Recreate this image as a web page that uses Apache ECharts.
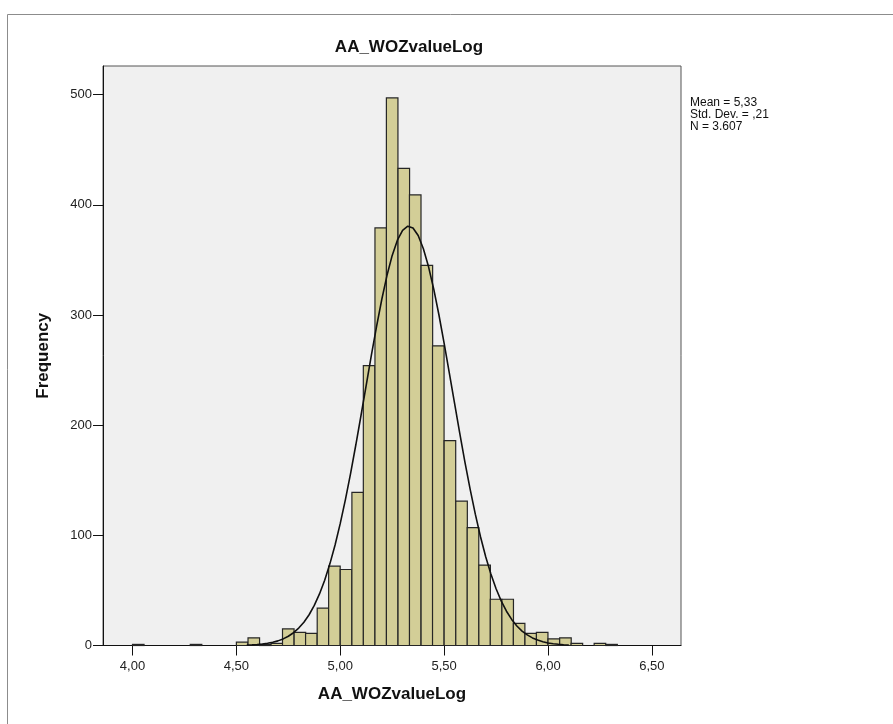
<!DOCTYPE html>
<html>
<head>
<meta charset="utf-8">
<title>AA_WOZvalueLog</title>
<script src="https://cdn.jsdelivr.net/npm/echarts@6/dist/echarts.min.js"></script>
<style>
  html, body { margin: 0; padding: 0; background: #ffffff; }
  #chart { width: 893px; height: 724px; }
</style>
</head>
<body>
<div id="chart"></div>
<script>
// Histogram bins: lower edge of each bin and its frequency
const binWidth = 0.0556;
const binStarts = [
  4.000, 4.056, 4.111, 4.167, 4.222, 4.278, 4.333, 4.389, 4.444, 4.500,
  4.556, 4.611, 4.667, 4.722, 4.778, 4.833, 4.889, 4.944, 5.000, 5.056,
  5.111, 5.167, 5.222, 5.278, 5.333, 5.389, 5.444, 5.500, 5.556, 5.611,
  5.667, 5.722, 5.778, 5.833, 5.889, 5.944, 6.000, 6.056, 6.111, 6.167,
  6.222, 6.278
];
const frequencies = [
  1, 0, 0, 0, 0, 1, 0, 0, 0, 3,
  7, 1, 2, 15, 12, 11, 34, 72, 69, 139,
  254, 379, 497, 433, 409, 345, 272, 186, 131, 107,
  73, 42, 42, 20, 11, 12, 6, 7, 2, 0,
  2, 1
];

// Fitted normal curve (x position, frequency height)
const curveX = [
  4.550, 4.575, 4.600, 4.625, 4.650, 4.675, 4.700, 4.725, 4.750, 4.775,
  4.800, 4.825, 4.850, 4.875, 4.900, 4.925, 4.950, 4.975, 5.000, 5.025,
  5.050, 5.075, 5.100, 5.125, 5.150, 5.175, 5.200, 5.225, 5.250, 5.275,
  5.300, 5.325, 5.350, 5.375, 5.400, 5.425, 5.450, 5.475, 5.500, 5.525,
  5.550, 5.575, 5.600, 5.625, 5.650, 5.675, 5.700, 5.725, 5.750, 5.775,
  5.800, 5.825, 5.850, 5.875, 5.900, 5.925, 5.950, 5.975, 6.000, 6.025,
  6.050, 6.075, 6.100
];
const curveY = [
  0.4, 0.6, 0.9, 1.4, 2.0, 2.9, 4.2, 6.0, 8.4, 11.6,
  15.8, 21.1, 27.9, 36.4, 46.8, 59.3, 74.1, 91.2, 110.8, 132.6,
  156.5, 182.2, 209.0, 236.4, 263.7, 289.9, 314.3, 336.0, 354.1, 367.9,
  376.8, 380.6, 379.0, 372.1, 360.1, 343.7, 323.4, 300.0, 274.3, 247.3,
  219.9, 192.7, 166.5, 141.9, 119.2, 98.7, 80.6, 64.9, 51.5, 40.3,
  31.1, 23.7, 17.7, 13.1, 9.6, 6.9, 4.9, 3.4, 2.3, 1.6,
  1.1, 0.7, 0.5
];

// Axis ticks
const xTickValues = [4.0, 4.5, 5.0, 5.5, 6.0, 6.5];
const xTickLabels = ['4,00', '4,50', '5,00', '5,50', '6,00', '6,50'];
const yTickValues = [0, 100, 200, 300, 400, 500];
const yTickLabels = ['0', '100', '200', '300', '400', '500'];

// Summary statistics
const statLines = ['Mean = 5,33', 'Std. Dev. = ,21', 'N = 3.607'];

const chart = echarts.init(document.getElementById('chart'), null, { renderer: 'canvas' });

const barData = binStarts.map((s, i) => [s, frequencies[i]]);
const curveData = curveX.map((x, i) => [x, curveY[i]]);
const font = 'Arial, "Liberation Sans", sans-serif';

chart.setOption({
  animation: false,
  backgroundColor: '#ffffff',
  title: {
    text: 'AA_WOZvalueLog',
    left: 404,
    textAlign: 'center',
    top: 34,
    textStyle: { fontFamily: font, fontSize: 17, fontWeight: 'bold', color: '#111111' }
  },
  grid: {
    left: 103, right: 212, top: 66, bottom: 78.5,
    show: true,
    backgroundColor: '#F0F0F0',
    borderColor: '#555555',
    borderWidth: 1
  },
  xAxis: {
    type: 'value',
    min: 3.858,
    max: 6.64,
    name: 'AA_WOZvalueLog',
    nameLocation: 'middle',
    nameGap: 40,
    nameTextStyle: { fontFamily: font, fontSize: 17, fontWeight: 'bold', color: '#111111' },
    axisLine: { show: true, onZero: false, lineStyle: { color: '#111111', width: 1 } },
    axisTick: {
      show: true, inside: false, length: 10,
      customValues: xTickValues,
      lineStyle: { color: '#111111', width: 1 }
    },
    axisLabel: {
      customValues: xTickValues,
      margin: 14,
      fontFamily: font, fontSize: 13, color: '#222222',
      formatter: (v) => {
        const i = xTickValues.findIndex(t => Math.abs(t - v) < 1e-6);
        return i >= 0 ? xTickLabels[i] : '';
      }
    },
    splitLine: { show: false }
  },
  yAxis: {
    type: 'value',
    min: 0,
    max: 526,
    name: 'Frequency',
    nameLocation: 'middle',
    nameGap: 51,
    nameRotate: 90,
    nameTextStyle: { fontFamily: font, fontSize: 17, fontWeight: 'bold', color: '#111111' },
    axisLine: { show: true, lineStyle: { color: '#111111', width: 1 } },
    axisTick: {
      show: true, inside: false, length: 10,
      customValues: yTickValues,
      lineStyle: { color: '#111111', width: 1 }
    },
    axisLabel: {
      customValues: yTickValues,
      margin: 11,
      fontFamily: font, fontSize: 13, color: '#222222',
      formatter: (v) => {
        const i = yTickValues.findIndex(t => Math.abs(t - v) < 1e-6);
        return i >= 0 ? yTickLabels[i] : '';
      }
    },
    splitLine: { show: false }
  },
  series: [
    {
      type: 'custom',
      name: 'Frequency',
      z: 2,
      data: barData,
      renderItem: (params, api) => {
        const start = api.value(0);
        const count = api.value(1);
        if (!count) return null;
        const p0 = api.coord([start, count]);
        const p1 = api.coord([start + binWidth, 0]);
        return {
          type: 'rect',
          shape: { x: p0[0], y: p0[1], width: p1[0] - p0[0], height: p1[1] - p0[1] },
          style: { fill: '#D3CE97', stroke: '#262626', lineWidth: 1.2 }
        };
      }
    },
    {
      type: 'line',
      name: 'Normal',
      z: 5,
      data: curveData,
      smooth: false,
      symbol: 'none',
      lineStyle: { color: '#111111', width: 1.6 }
    }
  ],
  graphic: [
    {
      type: 'rect',
      silent: true,
      z: -10,
      shape: { x: 7.5, y: 14.5, width: 1000, height: 1000 },
      style: { fill: 'none', stroke: '#8c8c8c', lineWidth: 1 }
    },
    {
      type: 'text',
      left: 690,
      top: 97,
      style: {
        text: statLines.join('\n'),
        fontFamily: font,
        fontSize: 12,
        lineHeight: 12,
        fill: '#111111'
      }
    }
  ]
});
</script>
</body>
</html>
